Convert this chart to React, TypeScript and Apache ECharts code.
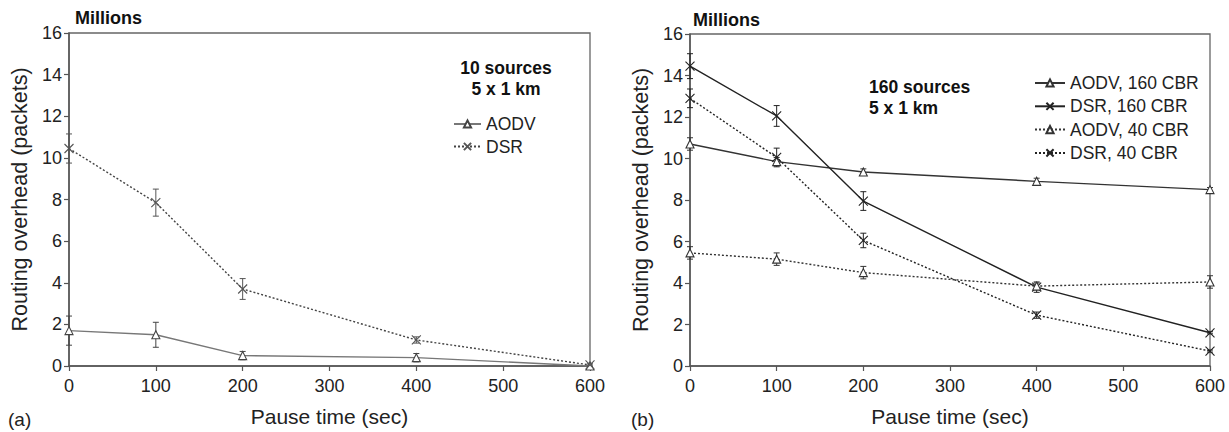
import React, { useEffect, useRef } from "react";
import * as echarts from "echarts";

const FONT = "'Liberation Sans', Arial, Helvetica, sans-serif";

const pauseTimes = [0, 100, 200, 400, 600];
const xTicks = [0, 100, 200, 300, 400, 500, 600];

// Panel (a): 10 sources
const aodv10 = [1.7, 1.5, 0.5, 0.4, 0.0];
const aodv10Err = [0.7, 0.6, 0.2, 0.2, 0.05];
const dsr10 = [10.45, 7.85, 3.7, 1.25, 0.05];
const dsr10Err = [0.7, 0.65, 0.5, 0.15, 0.08];

// Panel (b): 160 sources
const aodv160 = [10.7, 9.85, 9.35, 8.9, 8.5];
const aodv160Err = [0.3, 0.2, 0.15, 0.15, 0.1];
const dsr160 = [14.45, 12.05, 7.95, 3.8, 1.6];
const dsr160Err = [0.6, 0.5, 0.45, 0.25, 0.05];
const aodv40 = [5.45, 5.15, 4.5, 3.85, 4.05];
const aodv40Err = [0.3, 0.3, 0.3, 0.15, 0.3];
const dsr40 = [12.9, 10.05, 6.05, 2.45, 0.72];
const dsr40Err = [0.45, 0.45, 0.35, 0.15, 0.05];

const CROSS = "path://M0,0L10,10M10,0L0,10";

function lineSeries(name: string, values: number[], grid: number, color: string, dotted: boolean, marker: "tri" | "x", markerColor: string) {
  return {
    type: "line",
    name,
    xAxisIndex: grid,
    yAxisIndex: grid,
    data: pauseTimes.map((t, i) => [t, values[i]]),
    symbol: marker === "tri" ? "triangle" : CROSS,
    symbolSize: marker === "tri" ? 8 : 9,
    lineStyle: { color, width: 1.4, type: dotted ? [2, 2] : "solid" },
    itemStyle: { color: "#fff", borderColor: markerColor, borderWidth: 1.1 },
    z: 3,
  };
}

function errSeries(values: number[], errs: number[], grid: number, color: string) {
  return {
    type: "custom",
    xAxisIndex: grid,
    yAxisIndex: grid,
    silent: true,
    z: 2,
    encode: { x: 0, y: [1, 2] },
    data: pauseTimes.map((t, i) => [t, values[i] - errs[i], values[i] + errs[i]]),
    renderItem: (params: any, api: any) => {
      const x = api.value(0);
      const lo = api.coord([x, api.value(1)]);
      const hi = api.coord([x, api.value(2)]);
      const w = 3;
      const st = { stroke: color, lineWidth: 1 };
      return {
        type: "group",
        children: [
          { type: "line", shape: { x1: lo[0], y1: lo[1], x2: hi[0], y2: hi[1] }, style: st },
          { type: "line", shape: { x1: lo[0] - w, y1: lo[1], x2: lo[0] + w, y2: lo[1] }, style: st },
          { type: "line", shape: { x1: hi[0] - w, y1: hi[1], x2: hi[0] + w, y2: hi[1] }, style: st },
        ],
      };
    },
  };
}

export default function App() {
  const ref = useRef<HTMLDivElement>(null);
  useEffect(() => {
    document.body.style.margin = "0";
    if (!ref.current) return;
    const chart = echarts.init(ref.current, undefined, { renderer: "svg" });
    const axisColor = "#555";
    const labelStyle = { color: "#222", fontSize: 18, fontFamily: FONT };
    const xAxis = (grid: number) => ({
      type: "value",
      gridIndex: grid,
      min: 0,
      max: 600,
      interval: 100,
      name: "Pause time (sec)",
      nameLocation: "middle",
      nameGap: 40,
      nameTextStyle: { color: "#222", fontSize: 21, fontFamily: FONT },
      axisLine: { show: true, onZero: false, lineStyle: { color: axisColor, width: 1.5 } },
      axisTick: { show: true, length: 5, lineStyle: { color: axisColor, width: 1.2 } },
      axisLabel: { ...labelStyle, margin: 11, formatter: (v: number) => (xTicks.includes(v) ? String(v) : "") },
      splitLine: { show: false },
    });
    const yAxis = (grid: number) => ({
      type: "value",
      gridIndex: grid,
      min: 0,
      max: 16,
      interval: 2,
      name: "Routing overhead (packets)",
      nameLocation: "middle",
      nameGap: 38,
      nameTextStyle: { color: "#222", fontSize: 21.5, fontFamily: FONT },
      axisLine: { show: true, lineStyle: { color: axisColor, width: 1.5 } },
      axisTick: { show: true, length: 5, lineStyle: { color: axisColor, width: 1.2 } },
      axisLabel: { ...labelStyle, margin: 7 },
      splitLine: { show: false },
    });
    const legendBase = {
      orient: "vertical",
      itemHeight: 9,
      textStyle: { color: "#222", fontSize: 17.5, fontFamily: FONT, lineHeight: 18 },
      inactiveColor: "#222",
      selectedMode: false,
    };
    const boldText = (text: string, x: number, y: number, size: number, align = "left") => ({
      type: "text",
      x,
      y,
      style: { text, fill: "#111", font: `bold ${size}px ${FONT}`, textAlign: align, textVerticalAlign: "middle" },
    });
    const plainText = (text: string, x: number, y: number) => ({
      type: "text",
      x,
      y,
      style: { text, fill: "#222", font: `19px ${FONT}`, textAlign: "left", textVerticalAlign: "middle" },
    });
    chart.setOption({
      animation: false,
      backgroundColor: "#fff",
      grid: [
        { left: 69, top: 33, width: 521, height: 336, show: true, borderColor: "#666", borderWidth: 1.3, backgroundColor: "transparent" },
        { left: 690, top: 34, width: 520, height: 335, show: true, borderColor: "#666", borderWidth: 1.3, backgroundColor: "transparent" },
      ],
      xAxis: [xAxis(0), xAxis(1)],
      yAxis: [yAxis(0), yAxis(1)],
      legend: [
        { ...legendBase, data: ["AODV", "DSR"], left: 448, top: 110, itemWidth: 27, itemGap: 4.5 },
        { ...legendBase, data: ["AODV, 160 CBR", "DSR, 160 CBR", "AODV, 40 CBR", "DSR, 40 CBR"], left: 1029, top: 69, itemWidth: 30, itemGap: 5.3 },
      ],
      graphic: [
        boldText("Millions", 75, 18, 18),
        boldText("Millions", 693, 20, 18),
        boldText("10 sources", 506, 68, 17.5, "center"),
        boldText("5 x 1 km", 506, 89, 17.5, "center"),
        boldText("160 sources", 869, 87, 17.5),
        boldText("5 x 1 km", 869, 108, 17.5),
        plainText("(a)", 8, 419),
        plainText("(b)", 631, 419),
      ],
      series: [
        errSeries(aodv10, aodv10Err, 0, "#444"),
        errSeries(dsr10, dsr10Err, 0, "#555"),
        lineSeries("AODV", aodv10, 0, "#777", false, "tri", "#444"),
        lineSeries("DSR", dsr10, 0, "#444", true, "x", "#555"),
        errSeries(aodv160, aodv160Err, 1, "#333"),
        errSeries(dsr160, dsr160Err, 1, "#222"),
        errSeries(aodv40, aodv40Err, 1, "#333"),
        errSeries(dsr40, dsr40Err, 1, "#222"),
        lineSeries("AODV, 160 CBR", aodv160, 1, "#333", false, "tri", "#333"),
        lineSeries("DSR, 160 CBR", dsr160, 1, "#222", false, "x", "#222"),
        lineSeries("AODV, 40 CBR", aodv40, 1, "#333", true, "tri", "#333"),
        lineSeries("DSR, 40 CBR", dsr40, 1, "#222", true, "x", "#222"),
      ],
    });
    return () => chart.dispose();
  }, []);
  return <div ref={ref} style={{ width: 1229, height: 432 }} />;
}
